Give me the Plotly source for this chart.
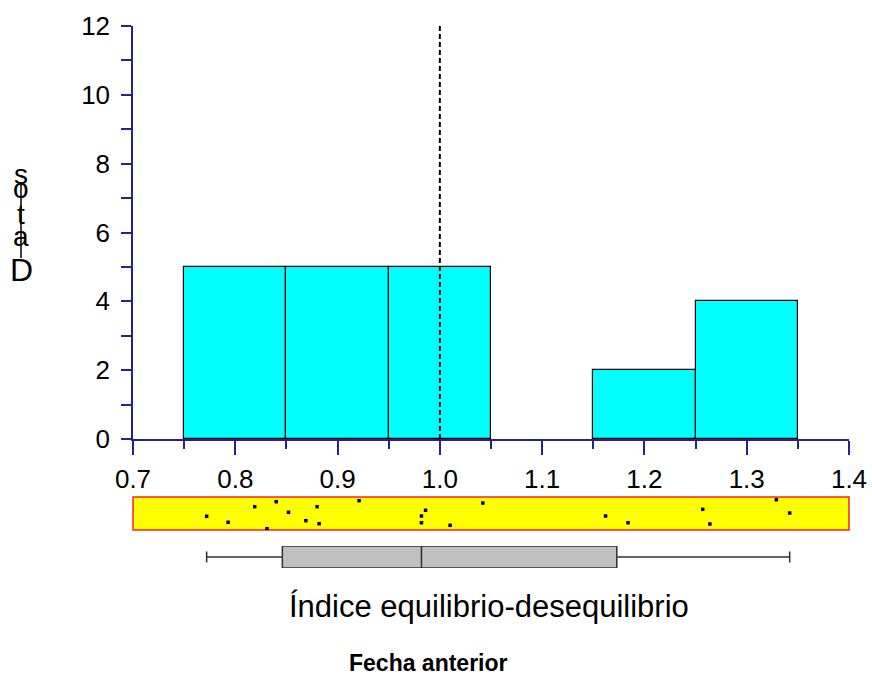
import plotly.graph_objects as go

# ---- data ----
values = [0.772, 0.793, 0.819, 0.831, 0.840, 0.852, 0.869, 0.880, 0.882, 0.921,
          0.982, 0.982, 0.986, 1.010, 1.042, 1.162, 1.184, 1.257, 1.264, 1.329, 1.342]
strip_jitter = [0.415, 0.233, 0.706, 0.04, 0.858, 0.536, 0.282, 0.706, 0.191, 0.888,
                0.424, 0.221, 0.597, 0.142, 0.818, 0.424, 0.221, 0.627, 0.182, 0.918, 0.515]
bin_start, bin_end, bin_size = 0.75, 1.35, 0.1
reference_value = 1.0
x_range = [0.7, 1.4]
y_range = [0, 12]
x_title = "Índice equilibrio-desequilibrio"
y_title = "Datos"
subtitle = "Fecha anterior"

W, H = 872, 680
L, T = 133, 26
R = W - 849
PLOT_BOTTOM = 580
B = H - PLOT_BOTTOM
PH = H - T - B
PW = W - L - R


def py(ypx):
    return (PLOT_BOTTOM - ypx) / PH


def px(xpx):
    return (xpx - L) / PW


FONT = "Arial, Liberation Sans, sans-serif"
AXC = "#23238c"

fig = go.Figure()

fig.add_trace(go.Histogram(
    x=values, xbins=dict(start=bin_start, end=bin_end, size=bin_size),
    marker=dict(color="#00FFFF", line=dict(color="black", width=1.2)),
    xaxis="x", yaxis="y", showlegend=False))

fig.add_trace(go.Scatter(
    x=values, y=strip_jitter, mode="markers",
    marker=dict(symbol="square", size=3.5, color="black"),
    xaxis="x2", yaxis="y2", showlegend=False))

fig.add_trace(go.Box(
    x=values, y=[0] * len(values), orientation="h", quartilemethod="exclusive",
    boxpoints=False, width=1, whiskerwidth=0.5,
    fillcolor="#C0C0C0", line=dict(color="#303030", width=1.5),
    xaxis="x3", yaxis="y3", showlegend=False))

fig.add_shape(type="line", xref="x", yref="y", x0=reference_value, x1=reference_value,
              y0=y_range[0], y1=y_range[1], line=dict(color="black", width=2, dash="5px,3px"))

fig.add_shape(type="rect", xref="x2 domain", yref="y2 domain", x0=0, x1=1, y0=0, y1=1,
              fillcolor="#FFFF00", line=dict(color="#FF2020", width=1.5), layer="below")

# stacked y label letters (bottom to top reading "Datos")
letters = list(y_title)
letter_y = [270, 237, 214, 189, 174]
letter_size = [32, 28, 28, 28, 28]
for ch, yy, sz in zip(letters, letter_y, letter_size):
    fig.add_annotation(text=ch, xref="paper", yref="paper", x=px(21), y=py(yy),
                       showarrow=False, font=dict(family=FONT, size=sz, color="black"),
                       xanchor="center", yanchor="middle")
fig.add_shape(type="line", xref="paper", yref="paper", x0=px(21), x1=px(21),
              y0=py(182), y1=py(258), line=dict(color="black", width=1.5))

fig.add_annotation(text=x_title, xref="paper", yref="paper", x=px(489), y=py(606),
                   showarrow=False, font=dict(family=FONT, size=31, color="black"),
                   xanchor="center", yanchor="middle")
fig.add_annotation(text="<b>" + subtitle + "</b>", xref="paper", yref="paper", x=px(428), y=py(663),
                   showarrow=False, font=dict(family=FONT, size=23, color="black"),
                   xanchor="center", yanchor="middle")

fig.update_layout(
    width=W, height=H, margin=dict(l=L, r=R, t=T, b=B, autoexpand=False),
    paper_bgcolor="white", plot_bgcolor="rgba(0,0,0,0)",
    bargap=0,
    font=dict(family=FONT, color="black"),
    xaxis=dict(range=x_range, domain=[0, 1], anchor="y", dtick=0.1, tickformat=".1f",
               automargin=False,
               showline=True, linecolor=AXC, linewidth=1.5, ticks="outside", ticklen=14,
               tickcolor=AXC, tickwidth=1.5, showgrid=False, zeroline=False,
               minor=dict(dtick=0.05, ticks="outside", ticklen=8, tickcolor=AXC, tickwidth=1.5),
               tickfont=dict(size=26, family=FONT, color="black"), ticklabelstandoff=2),
    yaxis=dict(range=y_range, domain=[py(439), 1], anchor="x", dtick=2,
               automargin=False,
               showline=True, linecolor=AXC, linewidth=1.5, ticks="outside", ticklen=10,
               tickcolor=AXC, tickwidth=1.5, showgrid=False, zeroline=False,
               minor=dict(dtick=1, ticks="outside", ticklen=10, tickcolor=AXC, tickwidth=1.5),
               tickfont=dict(size=26, family=FONT, color="black"), ticklabelstandoff=6),
    xaxis2=dict(range=x_range, domain=[0, 1], anchor="y2", visible=False, automargin=False),
    yaxis2=dict(range=[0, 1], domain=[py(530), py(497)], anchor="x2", visible=False, automargin=False),
    xaxis3=dict(range=x_range, domain=[0, 1], anchor="y3", visible=False, automargin=False),
    yaxis3=dict(range=[-0.5, 0.5], domain=[py(568), py(546)], anchor="x3", visible=False, automargin=False),
)

fig.write_html("out.html", config={"displayModeBar": False},
               post_script="document.body.style.margin='0';document.body.style.padding='0';")
